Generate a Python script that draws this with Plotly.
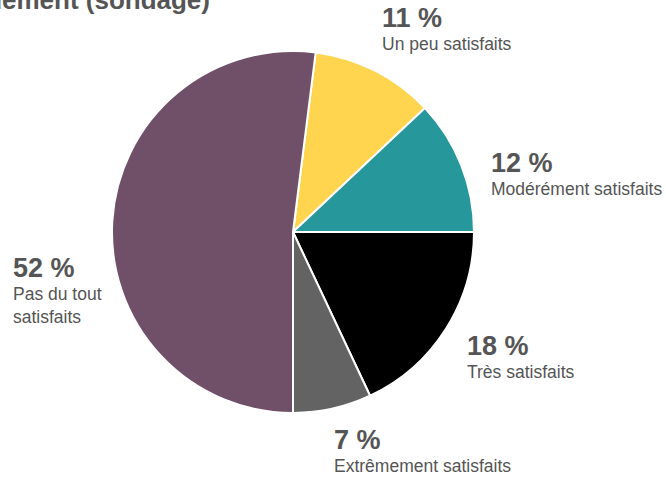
import plotly.graph_objects as go

# Survey results: share of respondents per satisfaction level (percent)
categories = [
    "Un peu satisfaits",
    "Modérément satisfaits",
    "Très satisfaits",
    "Extrêmement satisfaits",
    "Pas du tout satisfaits",
]
label_lines = [
    "Un peu satisfaits",
    "Modérément satisfaits",
    "Très satisfaits",
    "Extrêmement satisfaits",
    "Pas du tout<br>satisfaits",
]
shares = [11, 12, 18, 7, 52]
colors = ["#FFD54F", "#26979A", "#000000", "#636363", "#6F5068"]

title_text = "Satisfaction à l'égard du gouvernement (sondage)"

W, H = 666, 480
TEXT = "#555555"
FONT = "Liberation Sans, Arial, Helvetica, sans-serif"

# label anchor points (px, left edge / top edge of each label block)
label_pos = [(381, 2), (490, 147), (466, 330), (333, 424), (12, 252)]

fig = go.Figure(
    go.Pie(
        labels=categories,
        values=shares,
        sort=False,
        direction="clockwise",
        rotation=7.2,
        marker=dict(colors=colors, line=dict(color="white", width=2)),
        textinfo="none",
        hoverinfo="label+percent",
        showlegend=False,
        domain=dict(x=[112 / W, 474 / W], y=[(H - 413) / H, (H - 51) / H]),
    )
)

annotations = []
for (px, py), val, lab in zip(label_pos, shares, label_lines):
    annotations.append(dict(
        x=px / W, y=1 - py / H, xref="paper", yref="paper",
        xanchor="left", yanchor="top", showarrow=False, align="left",
        text=f"<b><span style='font-size:27px'>{val} %</span></b><br>{lab}",
        borderpad=0,
        font=dict(family=FONT, size=17.5, color=TEXT),
    ))

fig.update_layout(
    width=W, height=H,
    margin=dict(l=0, r=0, t=0, b=0),
    paper_bgcolor="white",
    plot_bgcolor="white",
    title=dict(
        text=f"<b>{title_text}</b>",
        xref="container", yref="container",
        x=210 / W, xanchor="right",
        y=1.0, yanchor="middle",
        font=dict(family=FONT, size=26, color=TEXT),
    ),
    annotations=annotations,
)

fig.write_html("out.html")
